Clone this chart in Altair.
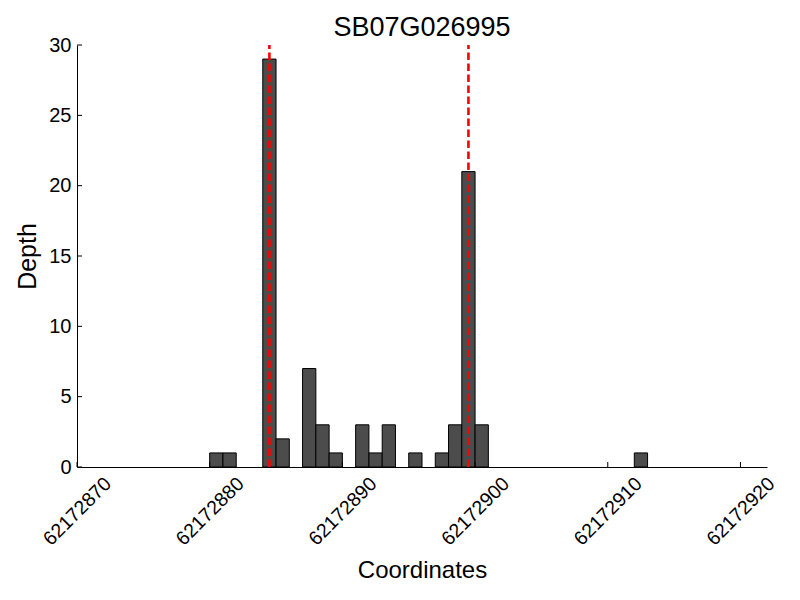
import altair as alt
import pandas as pd

# Data
positions = [62172880, 62172881, 62172884, 62172885, 62172887, 62172888, 62172889,
             62172891, 62172892, 62172893, 62172895, 62172897, 62172898, 62172899,
             62172900, 62172912]
depths = [1, 1, 29, 2, 7, 3, 1, 3, 1, 3, 1, 1, 3, 21, 3, 1]
marker_positions = [62172884.5, 62172899.5]
x_ticks = [62172870, 62172880, 62172890, 62172900, 62172910, 62172920]
y_ticks = [0, 5, 10, 15, 20, 25, 30]
x_domain = [62172870, 62172922]
y_domain = [0, 30]

FONT = "Liberation Sans"
W, H = 690, 422

bars_df = pd.DataFrame({"pos": positions, "depth": depths})
markers_df = pd.DataFrame({"pos": marker_positions,
                           "bottom": [y_domain[0]] * len(marker_positions),
                           "top": [y_domain[1]] * len(marker_positions)})
xt_df = pd.DataFrame({"t": x_ticks, "base": [y_domain[0]] * len(x_ticks)})
yt_df = pd.DataFrame({"t": y_ticks, "base": [x_domain[0]] * len(y_ticks)})

xscale = alt.Scale(domain=x_domain, nice=False, zero=False)
yscale = alt.Scale(domain=y_domain, nice=False)

xaxis = alt.Axis(values=x_ticks, format="d", labelAngle=315, labelAlign="center",
                 labelBaseline="middle", labelPadding=44, ticks=False, tickSize=0,
                 grid=False, domainColor="black", labelFontSize=19.5, labelFont=FONT,
                 labelColor="black", title="Coordinates", titleFont=FONT,
                 titleFontSize=24, titleFontWeight="normal", titleColor="black",
                 titlePadding=10, labelFlush=False, labelOverlap=False)
yaxis = alt.Axis(values=y_ticks, ticks=False, tickSize=0, grid=False,
                 domainColor="black", labelFontSize=20, labelFont=FONT,
                 labelColor="black", labelPadding=6, title="Depth", titleFont=FONT,
                 titleFontSize=25, titleFontWeight="normal", titleColor="black",
                 titlePadding=8)

bars = alt.Chart(bars_df).transform_calculate(
    pos2="datum.pos + 1", zero="0"
).mark_bar(color="#4c4c4c", stroke="black", strokeWidth=1).encode(
    x=alt.X("pos:Q", scale=xscale, axis=xaxis),
    x2="pos2:Q",
    y=alt.Y("depth:Q", scale=yscale, axis=yaxis),
    y2="zero:Q",
)

markers = alt.Chart(markers_df).mark_rule(
    color="#ff0000", strokeWidth=2.6, strokeDash=[7.5, 3.5]
).encode(
    x=alt.X("pos:Q", scale=xscale),
    y=alt.Y("bottom:Q", scale=yscale),
    y2="top:Q",
)

xticks = alt.Chart(xt_df).mark_tick(
    orient="vertical", size=5, thickness=1, color="black", yOffset=-2.5, opacity=1
).encode(
    x=alt.X("t:Q", scale=xscale),
    y=alt.Y("base:Q", scale=yscale),
)

yticks = alt.Chart(yt_df).mark_tick(
    orient="horizontal", size=5, thickness=1, color="black", xOffset=2.5, opacity=1
).encode(
    y=alt.Y("t:Q", scale=yscale),
    x=alt.X("base:Q", scale=xscale),
)

chart = alt.layer(bars, markers, xticks, yticks).properties(
    width=W,
    height=H,
    title=alt.TitleParams("SB07G026995", font=FONT, fontSize=27, fontWeight="normal",
                          color="black", frame="group", offset=8, dy=15),
    autosize=alt.AutoSizeParams(type="none"),
    padding={"left": 69, "top": 37, "right": 25, "bottom": 125},
).configure(background="white").configure_view(stroke=None)

chart.save("out.html", embed_options={"renderer": "svg", "actions": False})
